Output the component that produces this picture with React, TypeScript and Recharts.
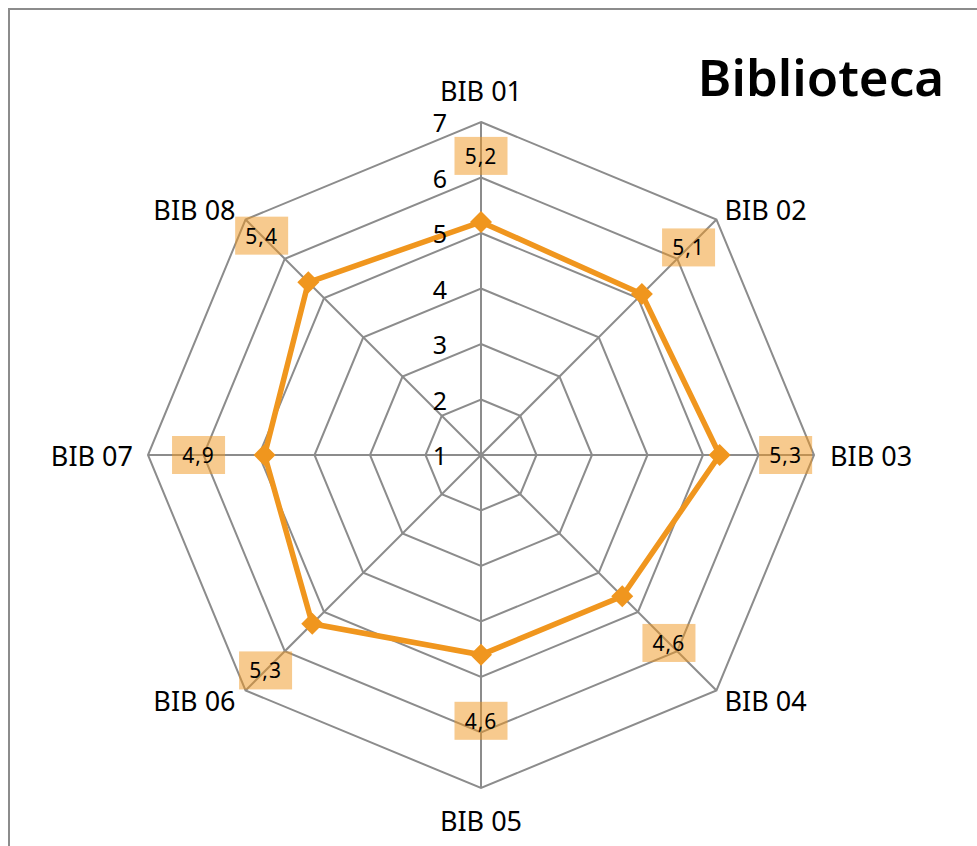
import { PolarAngleAxis, PolarGrid, PolarRadiusAxis, Radar, RadarChart } from "recharts";

const categories = ["BIB 01", "BIB 02", "BIB 03", "BIB 04", "BIB 05", "BIB 06", "BIB 07", "BIB 08"];
const values = [5.2, 5.1, 5.3, 4.6, 4.6, 5.3, 4.9, 5.4];
const radiusTicks = [1, 2, 3, 4, 5, 6, 7];

const data = categories.map((name, i) => ({ name, value: values[i] }));

const ORANGE = "#F0961E";
const GRID = "#8c8c8c";
const FONT = "'Noto Sans', 'Open Sans', sans-serif";
const CX = 471;
const CY = 445;
const R = 333;

const fmt = (v: number) => v.toFixed(1).replace(".", ",");

// category labels sit just outside the outer octagon
const AngleTick = (props: any) => {
  const { payload } = props;
  const a = (payload.coordinate * Math.PI) / 180;
  const cos = Math.cos(a);
  const sin = Math.sin(a);
  const vx = CX + R * cos;
  const vy = CY - R * sin;
  let x = vx;
  let y = vy;
  let anchor: "start" | "middle" | "end" = "middle";
  if (Math.abs(cos) < 0.1) {
    y = vy + (sin > 0 ? -32 : 32);
  } else if (Math.abs(sin) < 0.1) {
    anchor = cos > 0 ? "start" : "end";
    x = vx + (cos > 0 ? 16 : -15);
  } else {
    anchor = cos > 0 ? "start" : "end";
    x = vx + (cos > 0 ? 8 : -10);
    y = vy + (sin > 0 ? -10 : 10);
  }
  return (
    <text x={x} y={y} textAnchor={anchor} dominantBaseline="central" fontSize={27} fontFamily={FONT} fill="#000">
      {payload.value}
    </text>
  );
};

const RadiusTick = (props: any) => {
  const { x, y, payload } = props;
  return (
    <text x={x - 41} y={y} textAnchor="middle" dominantBaseline="central" fontSize={25} fontFamily={FONT} fill="#000">
      {payload.value}
    </text>
  );
};

const renderDot = (props: any) => {
  const { cx, cy, index } = props;
  const ox = props.payload?.cx ?? CX;
  const oy = props.payload?.cy ?? CY;
  const dx = cx - ox;
  const dy = cy - oy;
  const len = Math.hypot(dx, dy) || 1;
  const lx = cx + (dx / len) * 66;
  const ly = cy + (dy / len) * 66;
  const d = 11;
  return (
    <g key={`dot-${index}`}>
      <path d={`M${cx},${cy - d} L${cx + d},${cy} L${cx},${cy + d} L${cx - d},${cy} Z`} fill={ORANGE} />
      <rect x={lx - 26.5} y={ly - 19} width={53} height={38} fill={ORANGE} fillOpacity={0.5} />
      <text x={lx} y={ly} textAnchor="middle" dominantBaseline="central" fontSize={21} fontFamily={FONT} letterSpacing={1} fill="#000">
        {fmt(values[index])}
      </text>
    </g>
  );
};

export default function App() {
  return (
    <div
      style={{
        position: "fixed",
        left: 8,
        top: 8,
        width: 969,
        height: 838,
        borderLeft: `2px solid ${GRID}`,
        borderTop: `2px solid ${GRID}`,
        boxSizing: "border-box",
        background: "#fff",
      }}
    >
      <div
        style={{
          position: "absolute",
          left: 661,
          top: 40,
          width: 300,
          textAlign: "center",
          fontFamily: FONT,
          fontWeight: 600,
          fontSize: 51,
          lineHeight: "52px",
          color: "#000",
        }}
      >
        Biblioteca
      </div>
      <RadarChart width={967} height={836} data={data} cx={CX} cy={CY} outerRadius={R} margin={{ top: 0, right: 0, bottom: 0, left: 0 }}>
        <PolarGrid stroke={GRID} strokeWidth={2} />
        <PolarAngleAxis dataKey="name" tick={AngleTick} axisLine={false} tickLine={false} />
        <PolarRadiusAxis
          type="number"
          angle={90}
          domain={[1, 7]}
          ticks={radiusTicks}
          tickCount={7}
          tick={RadiusTick}
          tickLine={false}
          axisLine={{ stroke: GRID, strokeWidth: 2 }}
        />
        <Radar
          dataKey="value"
          stroke={ORANGE}
          strokeWidth={5.5}
          fill="none"
          fillOpacity={0}
          dot={renderDot}
          isAnimationActive={false}
        />
      </RadarChart>
    </div>
  );
}
